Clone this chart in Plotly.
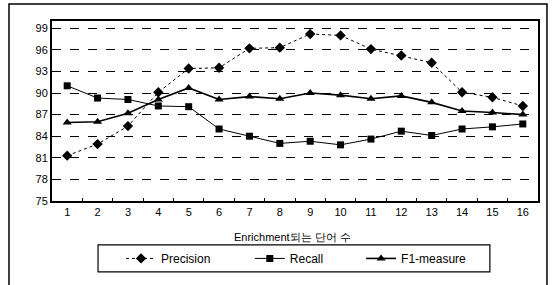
import plotly.graph_objects as go

categories = [str(i) for i in range(1, 17)]
precision = [81.3, 82.9, 85.4, 90.1, 93.4, 93.5, 96.2, 96.3, 98.2, 98.0, 96.1, 95.2, 94.2, 90.1, 89.4, 88.2]
recall = [91.0, 89.3, 89.1, 88.2, 88.1, 85.0, 84.0, 83.0, 83.3, 82.8, 83.6, 84.7, 84.1, 85.0, 85.3, 85.7]
f1 = [85.9, 86.0, 87.2, 89.1, 90.7, 89.1, 89.5, 89.2, 90.0, 89.7, 89.2, 89.6, 88.7, 87.5, 87.3, 87.0]
y_ticks = [75, 78, 81, 84, 87, 90, 93, 96, 99]
x_title = "Enrichment되는 단어 수"

fig = go.Figure()
fig.add_trace(go.Scatter(x=categories, y=precision, name="Precision", mode="lines+markers",
                         line=dict(color="black", width=1, dash="dot"),
                         marker=dict(symbol="diamond", size=8, color="black"),
                         legend="legend"))
fig.add_trace(go.Scatter(x=categories, y=recall, name="Recall", mode="lines+markers",
                         line=dict(color="black", width=1),
                         marker=dict(symbol="square", size=7, color="black"),
                         legend="legend2"))
fig.add_trace(go.Scatter(x=categories, y=f1, name="F1-measure", mode="lines+markers",
                         line=dict(color="black", width=1.6),
                         marker=dict(symbol="triangle-up", size=8, color="black"),
                         legend="legend3"))

leg_common = dict(orientation="h", xanchor="left", y=-0.319, yanchor="middle",
                  borderwidth=0, font=dict(size=12), bgcolor="rgba(0,0,0,0)")

fig.update_layout(
    width=553, height=285,
    margin=dict(l=52, r=15, t=21, b=84, autoexpand=False),
    paper_bgcolor="white", plot_bgcolor="white",
    font=dict(family="Liberation Sans, Arial, sans-serif", size=11, color="black"),
    showlegend=True,
    legend=dict(x=0.142, **leg_common),
    legend2=dict(x=0.407, **leg_common),
    legend3=dict(x=0.636, **leg_common),
)
fig.update_xaxes(type="category", range=[-0.5, 15.5], showgrid=False,
                 showline=True, linecolor="black", linewidth=2, mirror=True,
                 ticks="inside", ticklen=3, tickcolor="black", tickson="boundaries",
                 tickfont=dict(size=11))
fig.update_yaxes(range=[75, 100], tickvals=y_ticks, showgrid=True,
                 gridcolor="black", griddash="dash", gridwidth=1,
                 showline=True, linecolor="black", linewidth=2, mirror=True,
                 ticks="", tickfont=dict(size=11), zeroline=False)

fig.add_annotation(text=x_title, xref="paper", yref="paper", x=0.494, y=-0.2,
                   showarrow=False, font=dict(size=11), yanchor="middle")

# legend frame
fig.add_shape(type="rect", xref="paper", yref="paper", x0=0.0947, x1=0.901,
              y0=-0.394, y1=-0.244, line=dict(color="black", width=1.2))
# outer frame
fig.add_shape(type="rect", xref="paper", yref="paper", x0=-0.0885, x1=1.0185,
              y0=-0.48, y1=1.094, line=dict(color="black", width=1.5))

fig.write_html("out.html", config={"displayModeBar": False},
               post_script="document.body.style.margin='0';")
